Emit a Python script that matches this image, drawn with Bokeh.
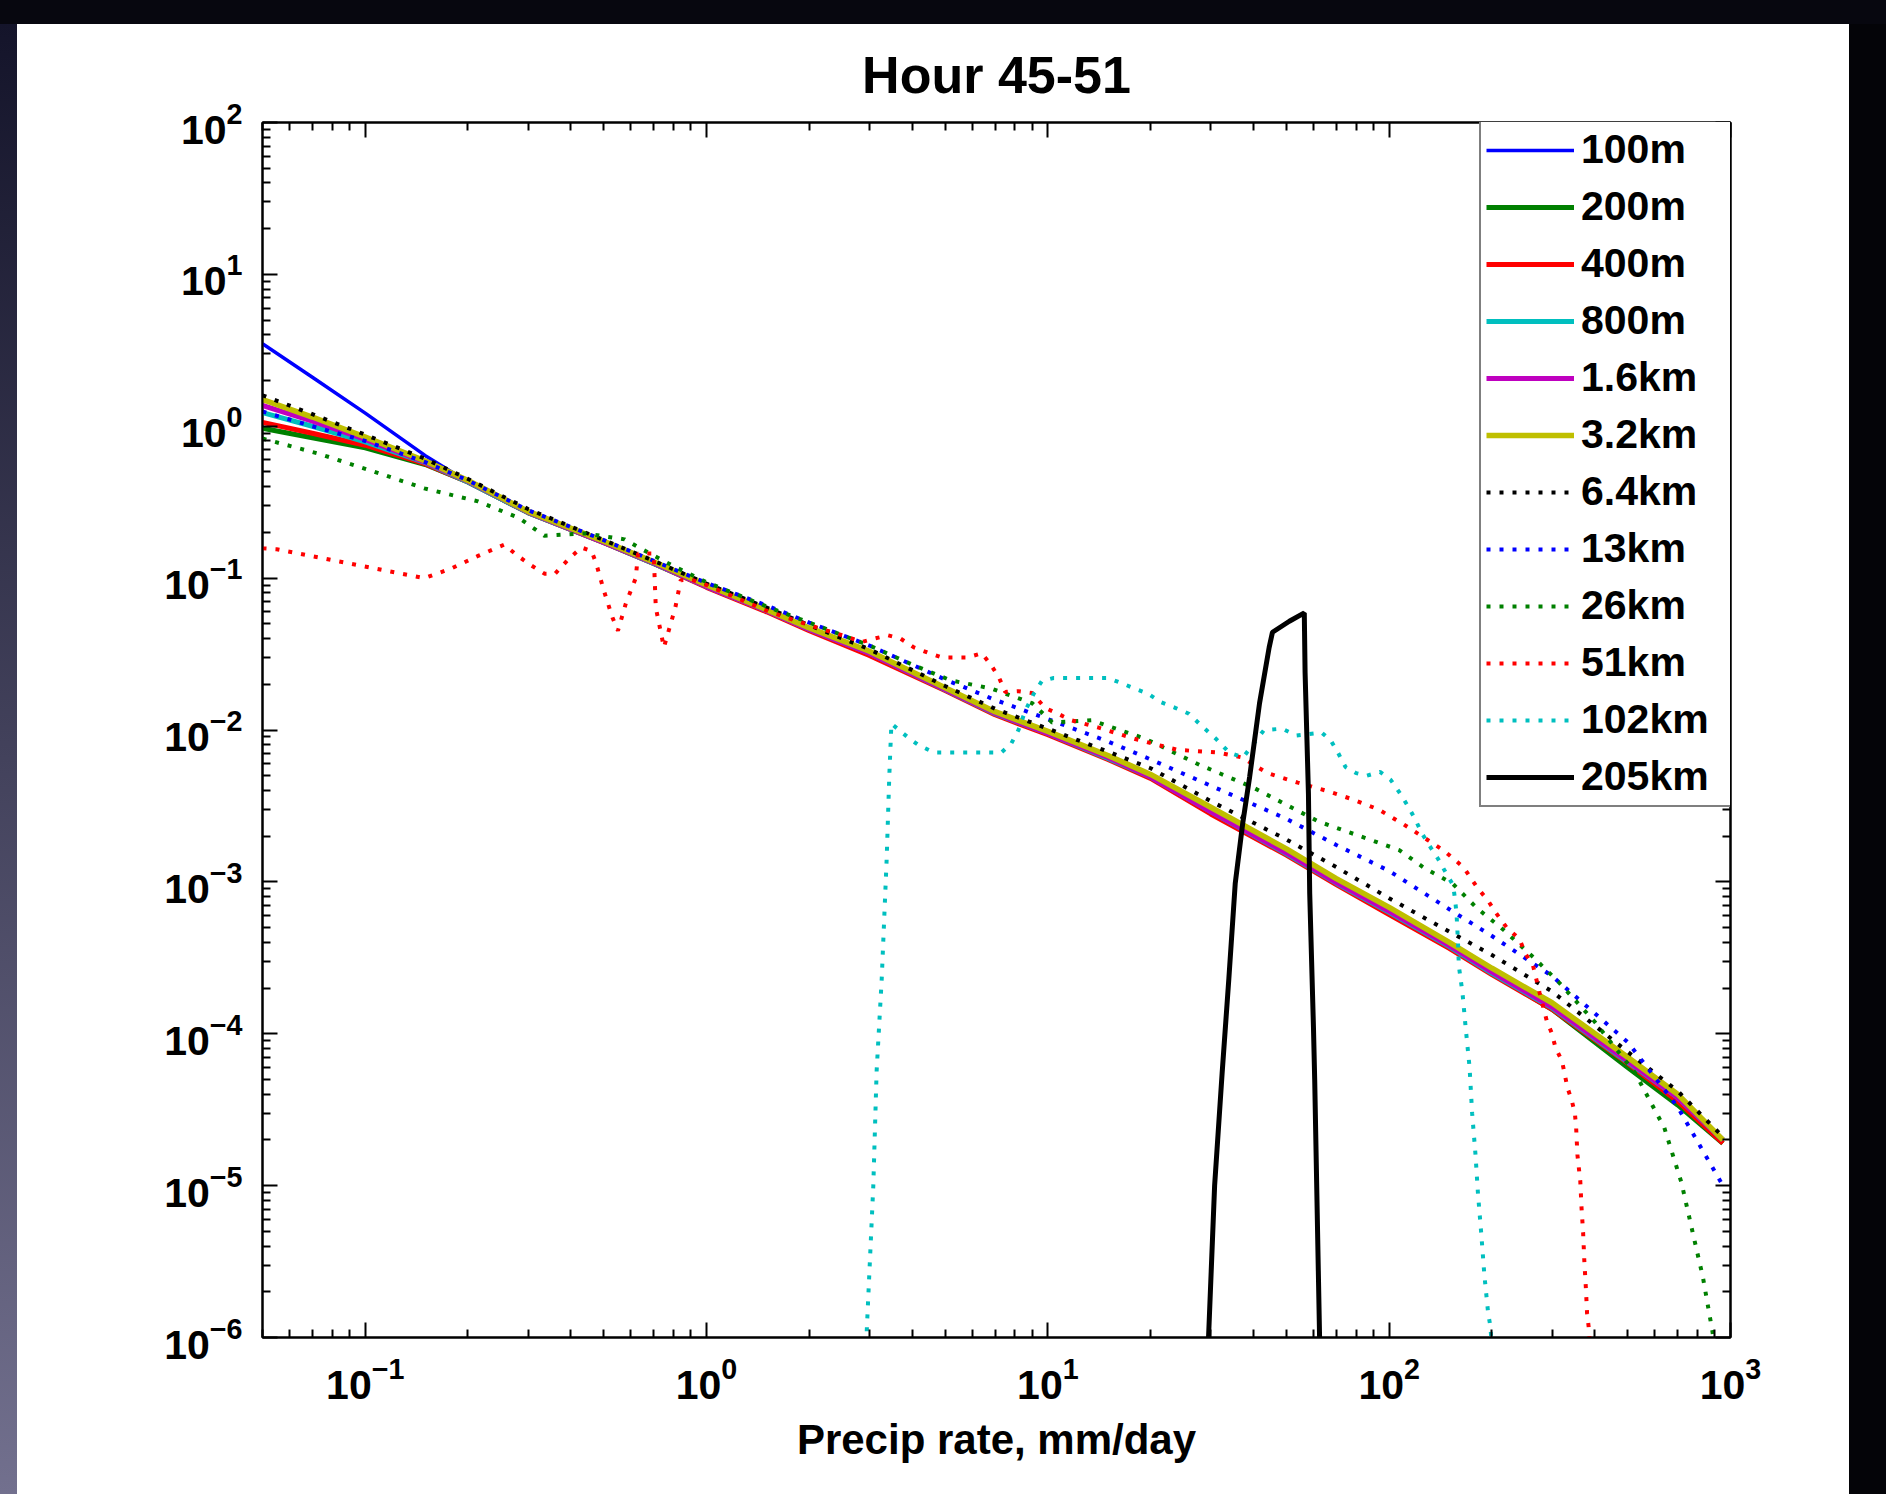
from bokeh.plotting import figure
from bokeh.models import LogAxis, FixedTicker, Legend, LegendItem, Spacer, LogTickFormatter
from bokeh.layouts import column, row
from bokeh.embed import file_html
from bokeh.resources import INLINE

# ---------------- data ----------------
TITLE = "Hour 45-51"
X_LABEL = "Precip rate, mm/day"
X_RANGE = (0.05, 1000)
Y_RANGE = (1e-6, 100)
X_TICK_EXPONENTS = [-1, 0, 1, 2, 3]
Y_TICK_EXPONENTS = [-6, -5, -4, -3, -2, -1, 0, 1, 2]

X_MAIN = [0.05, 0.07, 0.1, 0.15, 0.2, 0.3, 0.5, 0.7, 1, 1.5, 2, 3, 5, 7, 10, 15, 20,
          30, 50, 70, 100, 150, 200, 300, 500, 700, 950]

Y_100M = [3.5, 2.1, 1.22, 0.64, 0.43, 0.27, 0.172, 0.125, 0.088, 0.061, 0.046, 0.032,
          0.0185, 0.0128, 0.0095, 0.0065, 0.0049, 0.0029, 0.00155, 9.9e-4, 6.3e-4,
          3.75e-4, 2.5e-4, 1.48e-4, 6.4e-5, 3.7e-5, 2.0e-5]
Y_200M = [0.97, 0.84, 0.72, 0.56, 0.43, 0.27, 0.172, 0.125, 0.088, 0.061, 0.046, 0.032,
          0.0184, 0.0128, 0.0095, 0.0065, 0.0049, 0.0029, 0.00155, 9.9e-4, 6.3e-4,
          3.75e-4, 2.5e-4, 1.45e-4, 6.0e-5, 3.4e-5, 1.9e-5]
Y_400M = [1.06, 0.9, 0.75, 0.565, 0.43, 0.27, 0.171, 0.125, 0.087, 0.06, 0.045, 0.031,
          0.0182, 0.0126, 0.0093, 0.0064, 0.0048, 0.0028, 0.0015, 9.6e-4, 6.1e-4,
          3.65e-4, 2.45e-4, 1.45e-4, 6.4e-5, 3.6e-5, 1.9e-5]
Y_800M = [1.23, 1.0, 0.79, 0.575, 0.43, 0.27, 0.172, 0.125, 0.088, 0.061, 0.046, 0.032,
          0.0184, 0.0128, 0.0095, 0.0065, 0.0049, 0.0029, 0.00153, 9.8e-4, 6.3e-4,
          3.75e-4, 2.5e-4, 1.48e-4, 6.5e-5, 3.8e-5, 2.0e-5]
Y_1P6KM = [1.37, 1.08, 0.82, 0.58, 0.435, 0.272, 0.172, 0.126, 0.088, 0.061, 0.046, 0.032,
           0.0185, 0.0129, 0.0095, 0.0066, 0.0049, 0.0029, 0.00155, 9.9e-4, 6.4e-4,
           3.8e-4, 2.55e-4, 1.5e-4, 6.6e-5, 3.8e-5, 2.0e-5]
Y_3P2KM = [1.5, 1.15, 0.85, 0.59, 0.44, 0.275, 0.175, 0.128, 0.09, 0.062, 0.047, 0.033,
           0.019, 0.0132, 0.0098, 0.0068, 0.0051, 0.0031, 0.00165, 0.00105, 6.8e-4,
           4.0e-4, 2.7e-4, 1.6e-4, 7.0e-5, 4.0e-5, 2.0e-5]
Y_6P4KM = [1.6, 1.2, 0.88, 0.61, 0.45, 0.285, 0.178, 0.13, 0.092, 0.064, 0.049, 0.034,
           0.0195, 0.0138, 0.0102, 0.0072, 0.0056, 0.0034, 0.0019, 0.00125, 7.8e-4,
           4.7e-4, 3.3e-4, 1.9e-4, 7.6e-5, 4.2e-5, 2.1e-5]
Y_13KM = [1.25, 1.0, 0.8, 0.58, 0.44, 0.28, 0.178, 0.13, 0.093, 0.066, 0.051, 0.036,
          0.0215, 0.0158, 0.0118, 0.0084, 0.0064, 0.0043, 0.0026, 0.00175, 0.00118,
          6.6e-4, 4.4e-4, 2.4e-4, 8.8e-5, 3.3e-5, 1.0e-5]

X_26KM = [0.05, 0.073, 0.104, 0.149, 0.214, 0.281, 0.335, 0.44, 0.575, 0.63, 0.8, 1.0,
          1.5, 2.0, 3.0, 4.0, 5.2, 6.8, 9.0, 10.3, 13.4, 19.2, 27.8, 39.8, 62, 88.8,
          107, 127, 153, 181, 217, 264, 313, 400, 526, 640, 718, 780, 830, 885, 930]
Y_26KM = [0.83, 0.66, 0.51, 0.39, 0.32, 0.25, 0.19, 0.197, 0.18, 0.16, 0.12, 0.094,
          0.065, 0.051, 0.036, 0.027, 0.0212, 0.0188, 0.015, 0.0112, 0.0116, 0.0088,
          0.0059, 0.0042, 0.0025, 0.00188, 0.00162, 0.00123, 9.8e-4, 6.7e-4, 4.8e-4,
          3.2e-4, 2.2e-4, 1.2e-4, 5.5e-5, 2.4e-5, 1.05e-5, 4.6e-6, 2.5e-6, 1.1e-6, 5e-7]

X_51KM = [0.05, 0.055, 0.073, 0.104, 0.149, 0.179, 0.214, 0.255, 0.28, 0.307, 0.335,
          0.36, 0.396, 0.43, 0.46, 0.475, 0.5, 0.53, 0.55, 0.58, 0.62, 0.63, 0.70,
          0.71, 0.75, 0.81, 0.84, 0.9, 1.0, 1.5, 2.0, 2.5, 2.85, 3.1, 3.4, 3.7, 4.05,
          4.5, 4.9, 5.3, 5.8, 6.4, 6.8, 7.2, 7.5, 8.2, 9.0, 9.8, 10.7, 11.7, 14, 18.4,
          24, 31.6, 37, 44, 54, 65, 78, 93, 110, 130, 145, 165, 181, 195, 206, 221,
          241, 250, 264, 276, 290, 300, 307, 321, 333, 342, 350, 353, 356, 363, 366,
          370, 373, 377, 380, 384, 392]
Y_51KM = [0.157, 0.155, 0.137, 0.117, 0.10, 0.116, 0.14, 0.166, 0.14, 0.121, 0.107,
          0.107, 0.135, 0.159, 0.151, 0.125, 0.083, 0.055, 0.045, 0.068, 0.10, 0.145,
          0.145, 0.064, 0.035, 0.064, 0.097, 0.098, 0.09, 0.061, 0.049, 0.042, 0.038,
          0.040, 0.042, 0.040, 0.035, 0.032, 0.030, 0.030, 0.030, 0.032, 0.027, 0.022,
          0.0178, 0.018, 0.0175, 0.014, 0.0128, 0.0116, 0.0104, 0.0086, 0.0074, 0.0071,
          0.0066, 0.0052, 0.0045, 0.0040, 0.0035, 0.0030, 0.0024, 0.00188, 0.0016,
          0.00125, 9.2e-4, 7.5e-4, 6.2e-4, 5.0e-4, 4.2e-4, 3.4e-4, 2.8e-4, 1.85e-4,
          1.2e-4, 1.0e-4, 8.1e-5, 6.6e-5, 4.4e-5, 3.7e-5, 3.0e-5, 2.4e-5, 1.6e-5,
          1.07e-5, 7.2e-6, 4.9e-6, 3.2e-6, 2.1e-6, 1.44e-6, 1.18e-6, 6e-7]

X_102KM = [2.9, 3.08, 3.15, 3.26, 3.37, 3.43, 3.48, 3.9, 4.2, 4.65, 5.6, 6.7, 7.3, 7.8,
           8.2, 8.6, 9.1, 9.6, 10.4, 11.5, 13.7, 15, 16.4, 17.9, 19.6, 21.5, 23.6, 25.9,
           28.4, 31, 34, 37.3, 43, 48.6, 53.5, 63.5, 67.5, 71, 74.5, 80, 86, 94, 101,
           107, 114, 119, 124.5, 131, 139, 146.5, 154, 156, 157.5, 159, 160, 164, 167.5,
           172, 175, 179, 182, 186, 190, 195, 198, 202]
Y_102KM = [5e-7, 1e-5, 5.7e-5, 2.3e-4, 1.4e-3, 4.9e-3, 0.011, 0.0089, 0.0079, 0.0071,
           0.0071, 0.0071, 0.0071, 0.0081, 0.010, 0.0135, 0.0174, 0.021, 0.022, 0.022,
           0.022, 0.022, 0.0204, 0.0188, 0.0174, 0.0152, 0.014, 0.0128, 0.0105, 0.0088,
           0.0071, 0.0066, 0.010, 0.0102, 0.0092, 0.0096, 0.0085, 0.0070, 0.0057,
           0.0052, 0.0050, 0.0053, 0.0047, 0.0039, 0.0031, 0.0026, 0.0021, 0.00174,
           0.00142, 0.00115, 9.5e-4, 7.6e-4, 6.2e-4, 4.1e-4, 2.8e-4, 1.85e-4, 1.1e-4,
           6e-5, 3e-5, 1.6e-5, 8.9e-6, 4.9e-6, 2.6e-6, 1.44e-6, 1.18e-6, 6e-7]

X_205KM = [29.2, 30.8, 32.4, 33.9, 35.4, 37.2, 39, 41.7, 44.5, 45.5, 51, 56.4, 56.7, 58,
           58.5, 60, 60.5, 62.8]
Y_205KM = [5e-7, 1e-5, 5.5e-5, 2.3e-4, 9.8e-4, 2.4e-3, 4.9e-3, 0.015, 0.035, 0.044,
           0.052, 0.059, 0.024, 0.0038, 8.4e-4, 1.1e-4, 5e-5, 6e-7]

SERIES_NAMES = ["100m", "200m", "400m", "800m", "1.6km", "3.2km",
                "6.4km", "13km", "26km", "51km", "102km", "205km"]
SERIES_X = [X_MAIN, X_MAIN, X_MAIN, X_MAIN, X_MAIN, X_MAIN,
            X_MAIN, X_MAIN, X_26KM, X_51KM, X_102KM, X_205KM]
SERIES_Y = [Y_100M, Y_200M, Y_400M, Y_800M, Y_1P6KM, Y_3P2KM,
            Y_6P4KM, Y_13KM, Y_26KM, Y_51KM, Y_102KM, Y_205KM]

# ---------------- styles ----------------
COLORS = ["#0000ff", "#008000", "#ff0000", "#00bfbf", "#bf00bf", "#bfbf00",
          "#000000", "#0000ff", "#008000", "#ff0000", "#00bfbf", "#000000"]
DOTTED = [False] * 6 + [True] * 5 + [False]
WIDTHS = [3.5, 5, 5, 5, 5, 5.5, 4, 4, 4, 4, 4, 5]
FONT = "Liberation Sans"

p = figure(width=1832, height=1470, x_axis_type="log", y_axis_type="log",
           x_range=X_RANGE, y_range=Y_RANGE, output_backend="svg",
           toolbar_location=None, min_border_left=245, min_border_right=119,
           min_border_top=98, min_border_bottom=157)
p.background_fill_color = "white"
p.border_fill_color = "white"
p.outline_line_color = "black"
p.outline_line_width = 2
p.xgrid.visible = False
p.ygrid.visible = False

p.title.text = TITLE
p.title.text_font = FONT
p.title.text_font_size = "52px"
p.title.text_font_style = "bold"
p.title.text_color = "black"
p.title.align = "center"
p.title.offset = -6
p.title.standoff = 38

x_major = [10.0 ** k for k in X_TICK_EXPONENTS]
y_major = [10.0 ** k for k in Y_TICK_EXPONENTS]
x_minor = [m * 10.0 ** k for k in range(-2, 3) for m in range(2, 10)
           if X_RANGE[0] <= m * 10.0 ** k <= X_RANGE[1]]
y_minor = [m * 10.0 ** k for k in range(-6, 2) for m in range(2, 10)]

p.add_layout(LogAxis(), "above")
p.add_layout(LogAxis(), "right")
axes = [(p.below[0], x_major, x_minor, True), (p.above[0], x_major, x_minor, False),
        (p.left[0], y_major, y_minor, True), (p.right[0], y_major, y_minor, False)]
for ax, maj, mnr, labelled in axes:
    ax.ticker = FixedTicker(ticks=maj, minor_ticks=mnr)
    ax.formatter = LogTickFormatter()
    ax.axis_line_color = "black"
    ax.axis_line_width = 2
    ax.major_tick_line_color = "black"
    ax.minor_tick_line_color = "black"
    ax.major_tick_line_width = 2
    ax.minor_tick_line_width = 2
    ax.major_tick_in = 15
    ax.major_tick_out = 0
    ax.minor_tick_in = 8
    ax.minor_tick_out = 0
    if labelled:
        ax.major_label_text_font = FONT
        ax.major_label_text_font_size = "41px"
        ax.major_label_text_font_style = "bold"
        ax.major_label_text_color = "black"
    else:
        ax.major_label_text_color = None
        ax.major_label_text_font_size = "1px"
        ax.major_label_standoff = 0

p.below[0].major_label_standoff = 19
p.left[0].major_label_standoff = 20
p.below[0].axis_label = X_LABEL
p.below[0].axis_label_text_font = FONT
p.below[0].axis_label_text_font_size = "42px"
p.below[0].axis_label_text_font_style = "bold"
p.below[0].axis_label_text_color = "black"
p.below[0].axis_label_standoff = 14

items = []
for name, xs, ys, col, dot, w in zip(SERIES_NAMES, SERIES_X, SERIES_Y, COLORS, DOTTED, WIDTHS):
    kw = dict(line_color=col, line_width=w)
    if dot:
        kw["line_dash"] = "4 9"
    r = p.line(xs, ys, **kw)
    items.append(LegendItem(label=name, renderers=[r]))

legend = Legend(items=items, location=(1217, 530), padding=5, margin=0,
                spacing=10, glyph_width=88, glyph_height=46, label_height=46,
                label_width=148, label_standoff=7,
                label_text_font=FONT, label_text_font_size="41px",
                label_text_font_style="bold", label_text_color="black",
                border_line_color="black", border_line_width=2,
                background_fill_color="white", background_fill_alpha=1.0)
p.add_layout(legend, "center")

top_band = Spacer(width=1886, height=24, styles={"background": "#07070f"})
left_band = Spacer(width=17, height=1470,
                   styles={"background": "linear-gradient(#14142a, #72708e)"})
right_band = Spacer(width=37, height=1470, styles={"background": "#040408"})
layout = column(top_band, row(left_band, p, right_band, spacing=0), spacing=0)

open("out.html", "w").write(file_html(layout, INLINE, title=TITLE))
